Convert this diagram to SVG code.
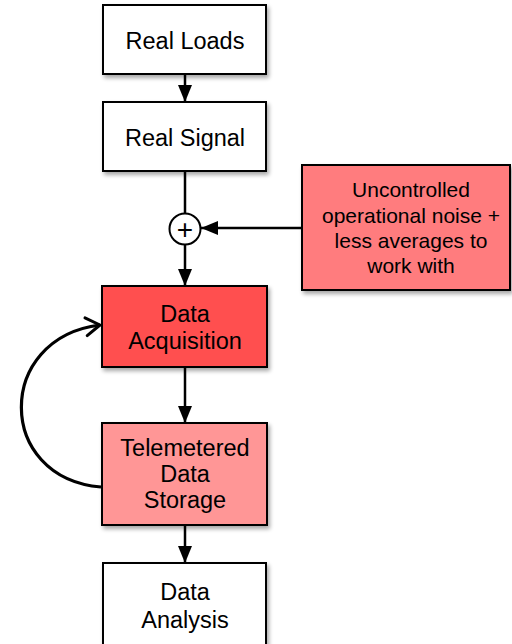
<svg xmlns="http://www.w3.org/2000/svg" width="512" height="644" viewBox="0 0 512 644">
<defs>
<style>
.box{stroke:#000;stroke-width:2;filter:url(#sh)}
.t{font-family:"Liberation Sans",Arial,sans-serif;font-size:23.5px;fill:#000;text-anchor:middle}
.tn{font-family:"Liberation Sans",Arial,sans-serif;font-size:21px;fill:#000;text-anchor:middle}
.c{stroke:#000;stroke-width:2.5;fill:none}
</style>
<filter id="sh" x="-10%" y="-10%" width="130%" height="130%">
<feGaussianBlur in="SourceAlpha" stdDeviation="2"/>
<feOffset dx="2" dy="3" result="b"/>
<feComponentTransfer><feFuncA type="linear" slope="0.35"/></feComponentTransfer>
<feMerge><feMergeNode/><feMergeNode in="SourceGraphic"/></feMerge>
</filter>
<marker id="ah" markerUnits="userSpaceOnUse" markerWidth="18" markerHeight="14" refX="17" refY="7" orient="auto">
<path d="M0,0 L17,7 L0,14 Z" fill="#000"/>
</marker>
<marker id="oh" markerUnits="userSpaceOnUse" markerWidth="20" markerHeight="22" refX="17" refY="11" orient="auto">
<path d="M3,2 L17,11 L3,20" fill="none" stroke="#000" stroke-width="3" stroke-linecap="round" stroke-linejoin="round"/>
</marker>
</defs>
<g id="connectors">
<line class="c" x1="185" y1="74" x2="185" y2="102" marker-end="url(#ah)"/>
<line class="c" x1="185" y1="171" x2="185" y2="213"/>
<line class="c" x1="185" y1="244" x2="185" y2="286" marker-end="url(#ah)"/>
<line class="c" x1="302" y1="228" x2="201" y2="228" marker-end="url(#ah)"/>
<line class="c" x1="185" y1="367" x2="185" y2="423" marker-end="url(#ah)"/>
<line class="c" x1="185" y1="525" x2="185" y2="563" marker-end="url(#ah)"/>
<path class="c" style="stroke-width:3.2" d="M101,487 C-5,478 -5,338 100,325" marker-end="url(#oh)"/>
</g>
<g id="real-loads">
<rect class="box" x="103" y="5" width="163" height="69" fill="#fff"/>
<text class="t" x="185" y="49">Real Loads</text>
</g>
<g id="real-signal">
<rect class="box" x="103" y="102" width="163" height="69" fill="#fff"/>
<text class="t" x="185" y="146">Real Signal</text>
</g>
<g id="sum">
<circle cx="185" cy="229" r="15.5" fill="#fff" stroke="#000" stroke-width="2"/>
<text class="t" style="font-size:28px" x="185" y="239">+</text>
</g>
<g id="noise">
<rect class="box" x="302" y="165" width="208" height="125" fill="#ff7b7e"/>
<text class="tn" x="411" y="197">Uncontrolled</text>
<text class="tn" x="411" y="223">operational noise +</text>
<text class="tn" x="411" y="248">less averages to</text>
<text class="tn" x="411" y="273">work with</text>
</g>
<g id="data-acquisition">
<rect class="box" x="102" y="286" width="165" height="81" fill="#ff5050"/>
<text class="t" x="185" y="322">Data</text>
<text class="t" x="185" y="349">Acquisition</text>
</g>
<g id="telemetered">
<rect class="box" x="102" y="423" width="165" height="102" fill="#ff9696"/>
<text class="t" x="185" y="456">Telemetered</text>
<text class="t" x="185" y="482">Data</text>
<text class="t" x="185" y="508">Storage</text>
</g>
<g id="data-analysis">
<rect class="box" x="103" y="563" width="163" height="90" fill="#fff"/>
<text class="t" x="185" y="600">Data</text>
<text class="t" x="185" y="628">Analysis</text>
</g>
</svg>
